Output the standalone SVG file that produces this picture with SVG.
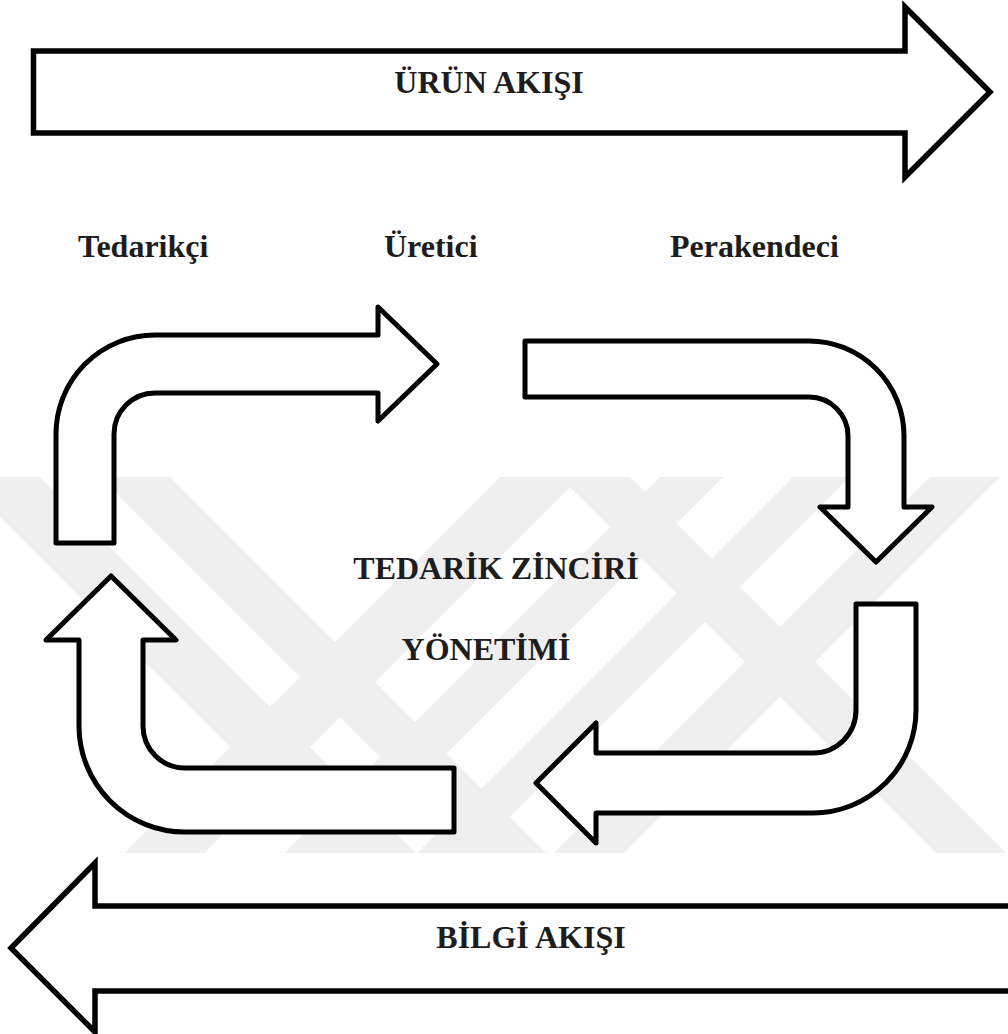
<svg xmlns="http://www.w3.org/2000/svg" width="1008" height="1034" viewBox="0 0 1008 1034">
  <style>
    .flow { fill: #ffffff; stroke: #000000; stroke-width: 5.5; stroke-linejoin: miter; }
    .bend { fill: #ffffff; stroke: #000000; stroke-width: 5; stroke-linejoin: round; }
    .lbl { font-family: "Liberation Serif", "Times New Roman", serif; font-weight: bold; fill: #1e1c1c; font-size: 32px; }
    .big { text-anchor: middle; }
    .wm { fill: #efefef; }
  </style>
  <defs>
    <clipPath id="wmClip">
      <rect x="0" y="477" width="1008" height="376"/>
    </clipPath>
  </defs>

  <rect width="1008" height="1034" fill="#ffffff"/>

  <!-- faint background emblem -->
  <g id="watermark" clip-path="url(#wmClip)">
    <polygon class="wm" points="-40,477 40,477 416,853 336,853"/>
    <polygon class="wm" points="100,477 170,477 546,853 476,853"/>
    <polygon class="wm" points="500,477 580,477 204,853 124,853"/>
    <polygon class="wm" points="660,477 723,477 347,853 284,853"/>
    <polygon class="wm" points="793,477 850,477 474,853 417,853"/>
    <polygon class="wm" points="560,477 630,477 1006,853 936,853"/>
    <polygon class="wm" points="930,477 1000,477 624,853 554,853"/>
  </g>

  <!-- product flow -->
  <g id="urun-akisi">
    <path class="flow" d="M33.5,51 H905 V7 L990,92 L905,177 V133 H33.5 Z"/>
    <text class="lbl big" x="489" y="93">ÜRÜN AKIŞI</text>
  </g>

  <!-- chain members -->
  <g id="tedarikci"><text class="lbl" x="78" y="257">Tedarikçi</text></g>
  <g id="uretici"><text class="lbl" x="384" y="257">Üretici</text></g>
  <g id="perakendeci"><text class="lbl" x="670" y="257">Perakendeci</text></g>

  <!-- centre title -->
  <g id="tzy">
    <text class="lbl big" x="496" y="579">TEDARİK ZİNCİRİ</text>
    <text class="lbl big" x="486" y="660">YÖNETİMİ</text>
  </g>

  <!-- circular bent arrows -->
  <g id="connectors">
    <path class="bend" d="M56,543 V434 A99,99 0 0 1 155,335 H378 V307 L437,364 L378,421 V393 H155 A41,41 0 0 0 114,434 V543 Z"/>
    <path class="bend" d="M525,341 H809 A95,95 0 0 1 904,436 V507 H932 L876,562 L820,507 H848 V436 A39,39 0 0 0 809,397 H525 Z"/>
    <path class="bend" d="M856,604 H916 V710 A103,103 0 0 1 813,813 H596 V843 L536,783 L596,723 V753 H813 A43,43 0 0 0 856,710 Z"/>
    <path class="bend" d="M454,768 V832 H185 A106,106 0 0 1 79,726 V640 H46 L111,576 L176,640 H143 V726 A42,42 0 0 0 185,768 Z"/>
  </g>

  <!-- information flow -->
  <g id="bilgi-akisi">
    <path class="flow" d="M1020,906 H95 V863 L11,948 L95,1032 V991 H1020 Z"/>
    <text class="lbl big" x="531" y="948">BİLGİ AKIŞI</text>
  </g>
</svg>
